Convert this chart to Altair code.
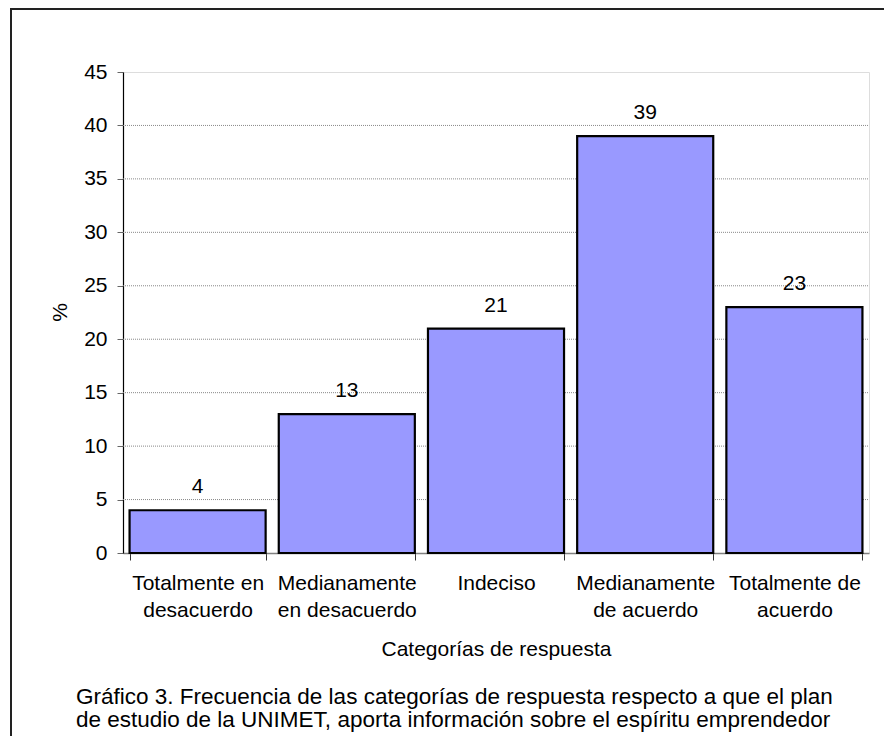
import altair as alt
import pandas as pd

categories = ["Totalmente en|desacuerdo", "Medianamente|en desacuerdo", "Indeciso",
              "Medianamente|de acuerdo", "Totalmente de|acuerdo"]
values = [4, 13, 21, 39, 23]
y_ticks = [0, 5, 10, 15, 20, 25, 30, 35, 40, 45]
grid_values = [5, 10, 15, 20, 25, 30, 35, 40]
x_title = "Categorías de respuesta"
y_title = "%"
caption = ("Gráfico 3. Frecuencia de las categorías de respuesta respecto a que el plan\n"
           "de estudio de la UNIMET, aporta información sobre el espíritu emprendedor")

FONT = "Liberation Sans"
FS = 21

df = pd.DataFrame({"cat": categories, "val": values})
gdf = pd.DataFrame({"g": grid_values})

yscale = alt.Scale(domain=[0, 45], nice=False)

x_enc = alt.X("cat:N", sort=categories,
              scale=alt.Scale(paddingInner=0.088, paddingOuter=0.044),
              axis=alt.Axis(title=x_title, labelAngle=0, tickBand="extent",
                            labelExpr="datum.value ? split(datum.value, '|') : ''",
                            labelFont=FONT, labelFontSize=FS, labelColor="black",
                            labelLineHeight=27, labelPadding=12, labelBaseline="top",
                            domainColor="#808080", domainWidth=1.5,
                            tickColor="#333333", tickSize=7,
                            titleFont=FONT, titleFontSize=FS, titleFontWeight="normal",
                            titleColor="black", titleX=373, titleY=96,
                            titleBaseline="middle", titleAlign="center"))
y_enc = alt.Y("val:Q", scale=yscale,
              axis=alt.Axis(title=y_title, values=y_ticks, grid=False,
                            labelFont=FONT, labelFontSize=FS, labelColor="black",
                            labelPadding=10, tickColor="#666666", tickSize=6,
                            domainColor="black", domainWidth=1.2,
                            titleFont=FONT, titleFontSize=FS, titleFontWeight="normal",
                            titleColor="black", titleX=-63, titleY=240, titleAngle=270,
                            titleAlign="center", titleBaseline="middle"))

grid = alt.Chart(gdf).mark_rule(color="#888888", strokeDash=[1, 1], strokeWidth=1).encode(
    y=alt.Y("g:Q", scale=yscale), x=alt.value(0), x2=alt.value(746))

base = alt.Chart(df)
bars = base.mark_bar(color="#9999FF", stroke="black", strokeWidth=2.2).encode(x=x_enc, y=y_enc)
labels = base.mark_text(font=FONT, fontSize=FS, color="black", baseline="alphabetic", dy=-17).encode(
    x=alt.X("cat:N", sort=categories), y="val:Q", text="val:Q")

cap_df = pd.DataFrame({"t": [caption]})
cap = alt.Chart(cap_df).mark_text(font=FONT, fontSize=22.5, color="black", align="left",
                                  baseline="alphabetic", lineBreak="\n", lineHeight=23).encode(
    x=alt.value(-47), y=alt.value(632), text="t:N")

frame = alt.Chart(cap_df).mark_rect(fill=None, stroke="#222222", strokeWidth=2).encode(
    x=alt.value(-112), y=alt.value(-63), x2=alt.value(900), y2=alt.value(900))

chart = alt.layer(frame, grid, bars, labels, cap).properties(
    width=746, height=481,
    autosize=alt.AutoSizeParams(type="none"),
    padding={"left": 115, "top": 64, "right": 15, "bottom": 183},
).configure_view(stroke=None).configure(background="white")

chart.save("out.html", embed_options={"renderer": "svg", "actions": False})
